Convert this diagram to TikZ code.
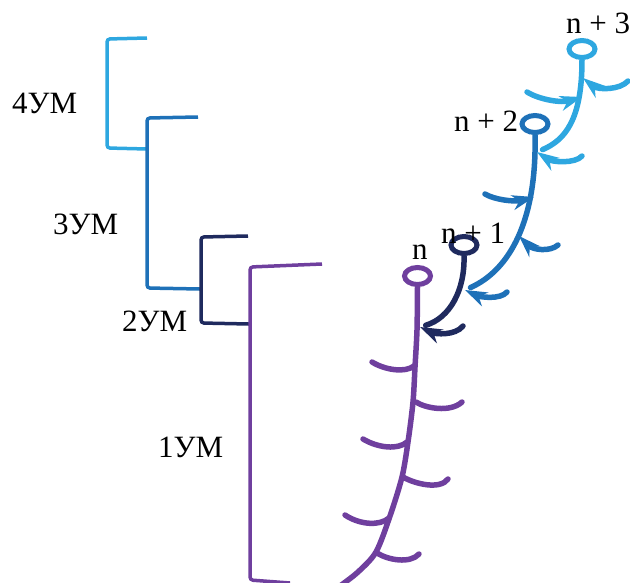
\documentclass[tikz,border=0pt]{standalone}
\usepackage{fontspec}
\setmainfont{Liberation Serif}
\usetikzlibrary{arrows.meta,shapes.geometric,positioning}

\definecolor{gen0}{HTML}{6F3F9E}
\definecolor{gen1}{HTML}{1F2A5E}
\definecolor{gen2}{HTML}{1E71B8}
\definecolor{gen3}{HTML}{2EA7E0}

\tikzset{
  bud/.style={draw, ellipse, line width=5pt, minimum width=26pt, minimum height=17pt, inner sep=0pt},
  stem/.style={line width=5.5pt, line cap=round},
  leaf/.style={line width=5.5pt, line cap=round},
  leafarrow/.style={leaf, -{Stealth[length=22pt,width=15pt,inset=7pt]}},
  bracket/.style={line width=3.5pt, rounded corners=3pt},
  lbl/.style={inner sep=0pt, anchor=base west, font=\fontsize{31}{36}\selectfont},
}

\begin{document}
\begin{tikzpicture}[x=1pt, y=-1pt]
  \useasboundingbox (0,0) rectangle (630,582);

  % brackets of the levels
  \draw[bracket, gen3] (147,38) -- (107,39) -- (107,148) -- (147,149);
  \draw[bracket, gen2] (198,117) -- (147,118) -- (147,288) -- (200,289);
  \draw[bracket, gen1] (248,236) -- (201,237) -- (201,323) -- (249,324);
  \draw[bracket, gen0] (322,264) -- (250,267) -- (250,580) -- (290,583);
  \node[lbl] (um4) at (12,113) {4УМ};
  \node[lbl] (um3) at (53,234) {3УМ};
  \node[lbl] (um2) at (122,331) {2УМ};
  \node[lbl] (um1) at (158,457) {1УМ};

  % buds
  \node[bud, draw=gen0] (n0) at (417.5,276) {};
  \node[bud, draw=gen1] (n1) at (464,245) {};
  \node[bud, draw=gen2] (n2) at (535,124) {};
  \node[bud, draw=gen3] (n3) at (582,49) {};
  \node[lbl] (l0) at (412,259) {n};
  \node[lbl] (l1) at (441,243) {n + 1};
  \node[lbl] (l2) at (454,131) {n + 2};
  \node[lbl] (l3) at (566,33) {n + 3};

  % joints
  \coordinate (j1) at (420,327);
  \coordinate (j2) at (465,290);
  \coordinate (j3) at (537,152);

  % stem n
  \draw[stem, gen0] plot[smooth] coordinates {(n0.south) (417,330) (415,367) (413,402)
    (408,442) (402,477) (390,516) (376,552) (358,572) (340,586)};
  \draw[leaf, gen0] (372,362) .. controls (385,370) and (405,373) .. (414,366);
  \draw[leaf, gen0] (416,402) .. controls (425,408) and (450,413) .. (462,402);
  \draw[leaf, gen0] (363,439) .. controls (378,448) and (398,450) .. (407,442);
  \draw[leaf, gen0] (403,477) .. controls (415,484) and (440,490) .. (448,479);
  \draw[leaf, gen0] (345,515) .. controls (360,525) and (380,526) .. (389,518);
  \draw[leaf, gen0] (377,553) .. controls (388,560) and (410,564) .. (419,554);

  % stem n + 1
  \draw[stem, gen1, shorten >=6pt] (n1.south) .. controls (465,290) and (450,318) .. (j1);
  \draw[leafarrow, gen1] (463,326) .. controls (455,336) and (435,334) .. (j1);

  % stem n + 2
  \draw[stem, gen2, shorten >=6pt] (n2.south) .. controls (537,220) and (510,270) .. (j2);
  \draw[leafarrow, gen2] (507,292) .. controls (500,300) and (480,297) .. (j2);
  \draw[leafarrow, gen2] (485,194) .. controls (495,200) and (515,202) .. (534,197);
  \draw[leafarrow, gen2] (558,245) .. controls (550,252) and (533,250) .. (519,236);

  % stem n + 3
  \draw[stem, gen3, shorten >=6pt] (n3.south) .. controls (582,120) and (565,140) .. (j3);
  \draw[leafarrow, gen3] (582,156) .. controls (575,164) and (552,162) .. (j3);
  \draw[leafarrow, gen3] (628,81) .. controls (620,90) and (598,90) .. (583,78);
  \draw[leafarrow, gen3] (527,92) .. controls (540,100) and (562,103) .. (582,97);
\end{tikzpicture}
\end{document}
